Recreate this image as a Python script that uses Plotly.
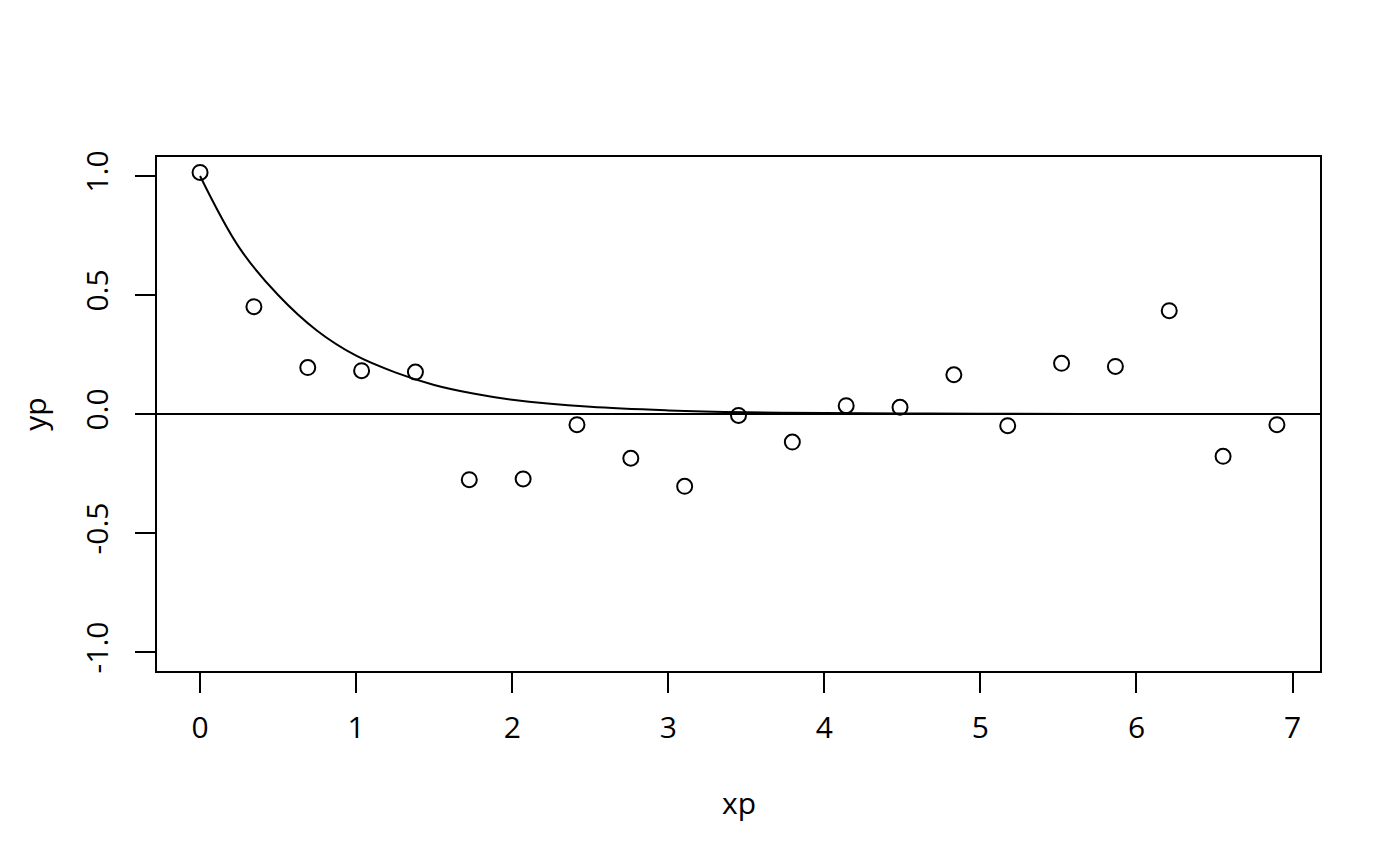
import plotly.graph_objects as go

# observed points
xp = [0.0, 0.345, 0.69, 1.035, 1.38, 1.725, 2.07, 2.415, 2.76, 3.105, 3.45,
      3.795, 4.14, 4.485, 4.83, 5.175, 5.52, 5.865, 6.21, 6.555, 6.9]
yp = [1.015, 0.451, 0.195, 0.182, 0.176, -0.276, -0.273, -0.045, -0.186, -0.304, -0.006,
      -0.118, 0.035, 0.028, 0.165, -0.049, 0.213, 0.200, 0.434, -0.178, -0.045]

# smooth decay curve
xc = [0.0, 0.25, 0.5, 0.75, 1.0, 1.25, 1.5, 1.75, 2.0, 2.5, 3.0, 3.5, 4.0, 4.5, 5.0, 6.0, 7.0]
yc = [1.0, 0.70, 0.50, 0.35, 0.245, 0.175, 0.122, 0.086, 0.060, 0.030, 0.015, 0.007,
      0.004, 0.002, 0.001, 0.0, 0.0]

x_ticks = [0, 1, 2, 3, 4, 5, 6, 7]
y_ticks = [-1.0, -0.5, 0.0, 0.5, 1.0]
y_labels = ["-1.0", "-0.5", "0.0", "0.5", "1.0"]

font = dict(family="Open Sans", size=30, color="black")

fig = go.Figure()
fig.add_trace(go.Scatter(x=xc, y=yc, mode="lines", line=dict(color="black", width=2, shape="spline"),
                         hoverinfo="skip"))
fig.add_trace(go.Scatter(x=xp, y=yp, mode="markers",
                         marker=dict(symbol="circle-open", size=15, color="black", line=dict(width=2))))

# abline(h = 0)
fig.add_shape(type="line", xref="paper", x0=0, x1=1, yref="y", y0=0, y1=0,
              line=dict(color="black", width=2))

axis_common = dict(showgrid=False, zeroline=False, showline=True, mirror=True, linecolor="black",
                   linewidth=2, ticks="outside", ticklen=20, tickwidth=2, tickcolor="black",
                   tickfont=font)

fig.update_xaxes(range=[-0.276, 7.176], tickvals=x_ticks, ticklabelstandoff=9, **axis_common)
fig.update_yaxes(range=[-1.08, 1.08], tickvals=y_ticks, ticktext=y_labels, tickangle=-90,
                 ticklabelstandoff=15, **axis_common)

fig.add_annotation(text="xp", xref="paper", yref="paper", x=0.5, y=-0.255, showarrow=False,
                   font=font, xanchor="center", yanchor="middle")
fig.add_annotation(text="yp", xref="paper", yref="paper", x=-0.106, y=0.5, showarrow=False,
                   font=font, textangle=-90, xanchor="center", yanchor="middle")

fig.update_layout(width=1400, height=866, showlegend=False,
                  paper_bgcolor="white", plot_bgcolor="white",
                  margin=dict(l=149, r=88, t=149, b=203))

fig.write_html("out.html")
